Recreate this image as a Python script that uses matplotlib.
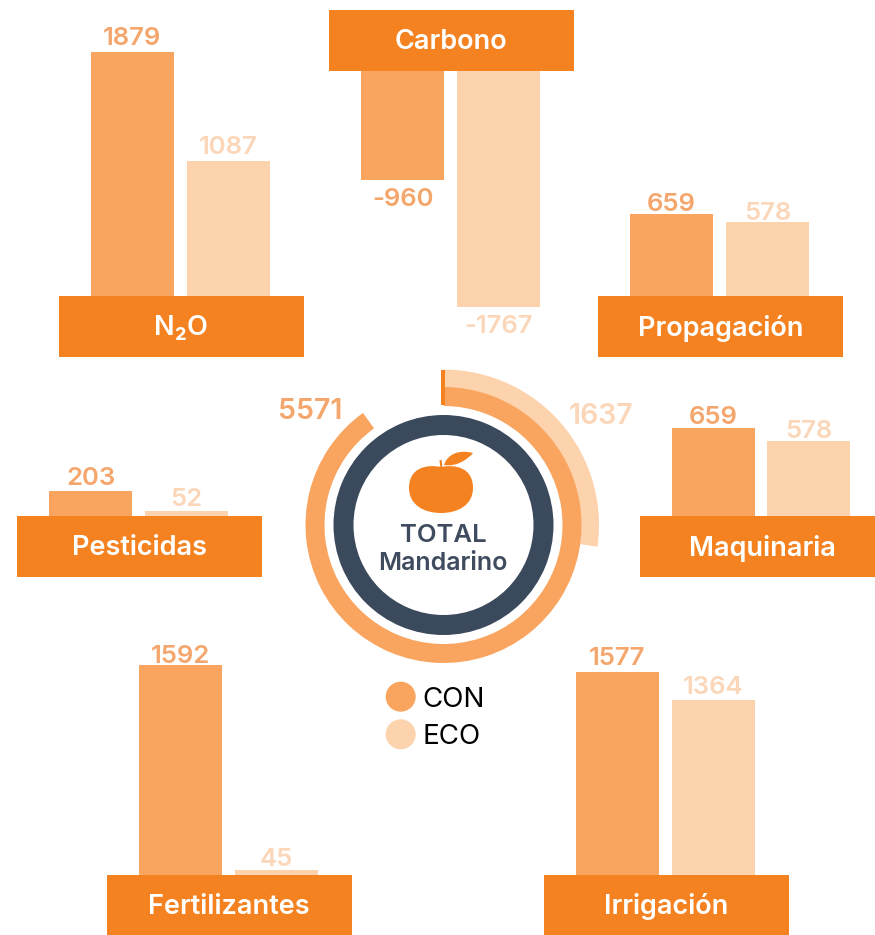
import numpy as np
import matplotlib
matplotlib.use("Agg")
import matplotlib.pyplot as plt
from matplotlib.patches import Rectangle, Circle, PathPatch
from matplotlib.path import Path

# ---- data ----
categories = ["N₂O", "Carbono", "Propagación", "Pesticidas", "Fertilizantes", "Maquinaria", "Irrigación"]
con_values = [1879, -960, 659, 203, 1592, 659, 1577]
eco_values = [1087, -1767, 578, 52, 45, 578, 1364]
total_con = 5571
total_eco = 1637
legend_labels = ["CON", "ECO"]

# ---- style ----
BAND = "#F58220"
CON = "#F9A55F"
ECO = "#FDD3AE"
CON_TXT = "#F4A66C"
ECO_TXT = "#FBD6B8"
DARK = "#3A4A5C"
W, H = 875, 935
plt.rcParams["font.family"] = ["Inter", "DejaVu Sans"]

# band left, band top, con bar left, eco bar left, px/unit con, px/unit eco, label gap con, label gap eco
layout = [
    (59, 296, 90.5, 187, 0.1299, 0.1242, 16, 16),
    (329, 10, 361, 457, 0.1135, 0.1336, 17, 17),
    (598, 296, 630, 726, 0.1244, 0.1280, 12, 11),
    (17, 516, 49, 145, 0.1207, 0.0960, 16, 14),
    (107, 875, 139, 235, 0.1316, 0.1110, 12, 13),
    (640, 516, 672, 767, 0.1335, 0.1298, 13, 12),
    (544, 875, 576, 672, 0.1287, 0.1283, 16, 15),
]
BAND_W, BAND_H, BAR_W = 244.5, 61, 83

fig = plt.figure(figsize=(W / 100, H / 100), dpi=100, facecolor="white")
px = fig.add_axes([0, 0, 1, 1], zorder=3)
px.set_xlim(0, W)
px.set_ylim(H, 0)
px.axis("off")
px.patch.set_alpha(0)


def bar_axes(x, base, value, scale, color):
    """One bar on its own value axis; returns pixel y of the bar's free end."""
    span = 300.0
    if value >= 0:
        rect = [x / W, 1 - base / H, BAR_W / W, span / H]
        ylim = (0, span / scale)
    else:
        rect = [x / W, 1 - (base + span) / H, BAR_W / W, span / H]
        ylim = (-span / scale, 0)
    ax = fig.add_axes(rect, zorder=1)
    ax.bar([0], [value], width=1, color=color, linewidth=0)
    ax.set_xlim(-0.5, 0.5)
    ax.set_ylim(*ylim)
    ax.axis("off")
    end = ax.transData.transform((0, value))[1]
    return H - end


for name, con, eco, (bx, by, cx, ex, sc, se, gc, ge) in zip(categories, con_values, eco_values, layout):
    px.add_patch(Rectangle((bx, by), BAND_W, BAND_H, color=BAND, lw=0))
    px.text(bx + BAND_W / 2, by + BAND_H / 2 + 1.5, name, color="white", fontsize=19.5, weight="semibold",
            ha="center", va="center")
    base = by + BAND_H if con < 0 else by
    for val, x, s, col, tcol, gap in ((con, cx, sc, CON, CON_TXT, gc), (eco, ex, se, ECO, ECO_TXT, ge)):
        end = bar_axes(x, base, val, s, col)
        centre = end + gap if val < 0 else end - gap
        px.text(x + BAR_W / 2, centre + 9.3, str(val), color=tcol, fontsize=18.5, weight="semibold",
                ha="center", va="baseline")

# ---- central rings ----
cx0, cy0, R = 443.5, 525, 156
pol = fig.add_axes([(cx0 - R) / W, 1 - (cy0 + R) / H, 2 * R / W, 2 * R / H], projection="polar", zorder=2)
pol.set_theta_zero_location("N")
pol.set_theta_direction(-1)
pol.set_ylim(0, R)
pol.axis("off")
deg_con, deg_eco = 324.3 / total_con, 98.0 / total_eco
a_con = np.deg2rad(total_con * deg_con)
a_eco = np.deg2rad(total_eco * deg_eco)
pol.bar([a_eco / 2], [18], width=a_eco, bottom=137.5, color=ECO, linewidth=0)
pol.bar([a_con / 2], [19], width=a_con, bottom=119, color=CON, linewidth=0)
pol.bar([np.pi], [20], width=2 * np.pi, bottom=90, color=DARK, linewidth=0)

px.add_patch(Rectangle((441, 370), 3.6, 35, color=BAND, lw=0))
px.text(310.5, 419, str(total_con), color=CON_TXT, fontsize=20.5, weight="semibold", ha="center", va="baseline")
px.text(600.5, 424, str(total_eco), color=ECO_TXT, fontsize=20.5, weight="semibold", ha="center", va="baseline")

px.text(443, 535, "TOTAL", color="#3F4B5E", fontsize=18.5, weight="semibold", ha="center", va="center")
px.text(443, 563, "Mandarino", color="#3F4B5E", fontsize=18, weight="semibold", ha="center", va="center")

# ---- mandarin icon ----
M, C, Z = Path.MOVETO, Path.CURVE4, Path.CLOSEPOLY
body = [(441, 467), (426, 464), (409, 468), (409, 488), (409, 505), (424, 513), (441, 513),
        (458, 513), (473, 505), (473, 488), (473, 468), (456, 464), (441, 467), (441, 467)]
body_codes = [M] + [C] * 12 + [Z]
px.add_patch(PathPatch(Path(body, body_codes), color=BAND, lw=0))
leaf = [(444, 465), (447, 455), (458, 449), (473, 453), (467, 460), (456, 467), (444, 465), (444, 465)]
leaf_codes = [M] + [C] * 6 + [Z]
px.add_patch(PathPatch(Path(leaf, leaf_codes), color=BAND, lw=0))
px.plot([440.5, 441.5], [460, 468], color=BAND, lw=1.5, solid_capstyle="butt")

# ---- legend ----
for lab, y, col in zip(legend_labels, (696.7, 734.3), (CON, ECO)):
    px.add_patch(Circle((400.7, y), 15, color=col, lw=0))
    px.text(422.5, y + 3, lab, color="black", fontsize=20, ha="left", va="center")

fig.savefig("out.png", dpi=100, facecolor="white")
